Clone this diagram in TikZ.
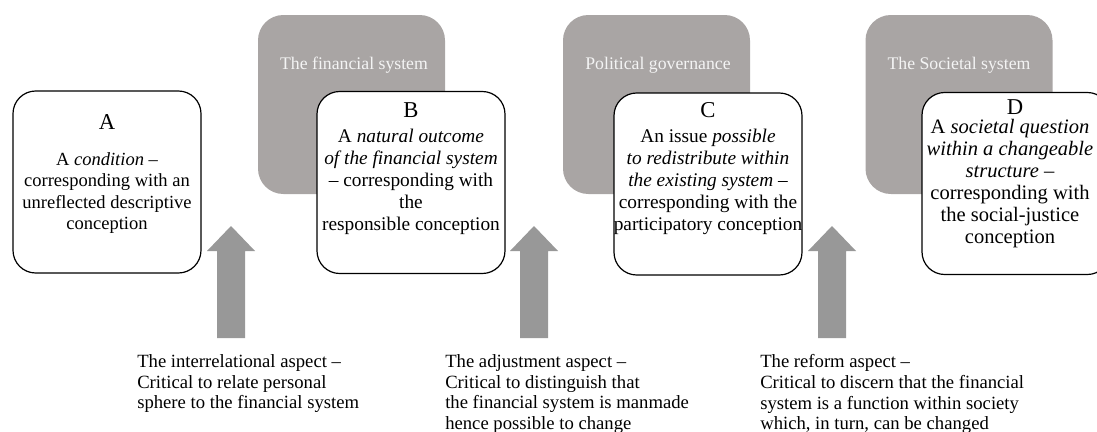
\documentclass[tikz,border=0pt]{standalone}
\usepackage{fontspec}
\setmainfont{Liberation Serif}
\definecolor{boxgray}{RGB}{169,165,164}
\definecolor{arrowgray}{RGB}{152,152,152}
\definecolor{titlewhite}{RGB}{244,244,244}
\begin{document}
\begin{tikzpicture}[x=0.75pt,y=-0.75pt,
  graybox/.style={fill=boxgray, draw=none, rounded corners=19pt,
    minimum width=140.25pt, minimum height=134.25pt, inner sep=0pt},
  graytitle/.style={text=titlewhite, font=\fontsize{13.3}{15}\selectfont, inner sep=0pt},
  whitebox/.style={fill=white, draw=black, line width=0.9pt, rounded corners=17pt,
    minimum width=141pt, minimum height=136.5pt, inner sep=0pt},
  letter/.style={font=\fontsize{17}{20}\selectfont, inner sep=0pt},
  boxtext/.style={font=\fontsize{14.5}{16.5}\selectfont, align=center, inner sep=0pt},
  aspect/.style={font=\fontsize{14}{15.6}\selectfont, align=left, inner sep=0pt, anchor=north west},
  blockarrow/.style={fill=arrowgray, draw=none}
]
\useasboundingbox (0,0) rectangle (1097,432);

% gray system boxes
\node[graybox] (g1) at (351.5,104.5) {};
\node[graybox] (g2) at (656.5,104.5) {};
\node[graybox] (g3) at (959,104.5) {};
\node[graytitle] (t1) at (354,65) {The financial system};
\node[graytitle] (t2) at (658,65) {Political governance};
\node[graytitle] (t3) at (959,65) {The Societal system};

% white boxes
\node[whitebox] (A) at (107,182) {};
\node[whitebox] (B) at (411,182.5) {};
\node[whitebox] (C) at (708,184) {};
\node[whitebox] (D) at (1016,183.5) {};

\node[letter] (lA) at (107,122) {A};
\node[letter] (lB) at (411,110) {B};
\node[letter] (lC) at (708,110) {C};
\node[letter] (lD) at (1015,107) {D};

\node[boxtext, font=\fontsize{13.9}{15.9}\selectfont] (xA) at (107,193) {A \textit{condition} --\\corresponding with an\\unreflected descriptive\\conception};
\node[boxtext] (xB) at (411,182) {A \textit{natural outcome}\\\textit{of the financial system}\\-- corresponding with\\the\\responsible conception};
\node[boxtext] (xC) at (708,182) {An issue \textit{possible}\\\textit{to redistribute within}\\\textit{the existing system} --\\corresponding with the\\participatory conception};
\node[boxtext, font=\fontsize{15.4}{16.5}\selectfont] (xD) at (1010,184) {A \textit{societal question}\\\textit{within a changeable}\\\textit{structure} --\\corresponding with\\the social-justice\\conception};

% block arrows
\foreach \n/\cx in {1/231,2/534,3/832}{
  \coordinate (arr\n) at (\cx,338);
  \fill[blockarrow] (\cx-14,338) -- (\cx-14,251) -- (\cx-24,251) -- (\cx,226)
    -- (\cx+24,251) -- (\cx+14,251) -- (\cx+14,338) -- cycle;
}

% aspect texts
\node[aspect] (s1) at (137,354) {The interrelational aspect --\\Critical to relate personal\\sphere to the financial system};
\node[aspect] (s2) at (445,354) {The adjustment aspect --\\Critical to distinguish that\\the financial system is manmade\\hence possible to change};
\node[aspect] (s3) at (760,354) {The reform aspect --\\Critical to discern that the financial\\system is a function within society\\which, in turn, can be changed};
\end{tikzpicture}
\end{document}
